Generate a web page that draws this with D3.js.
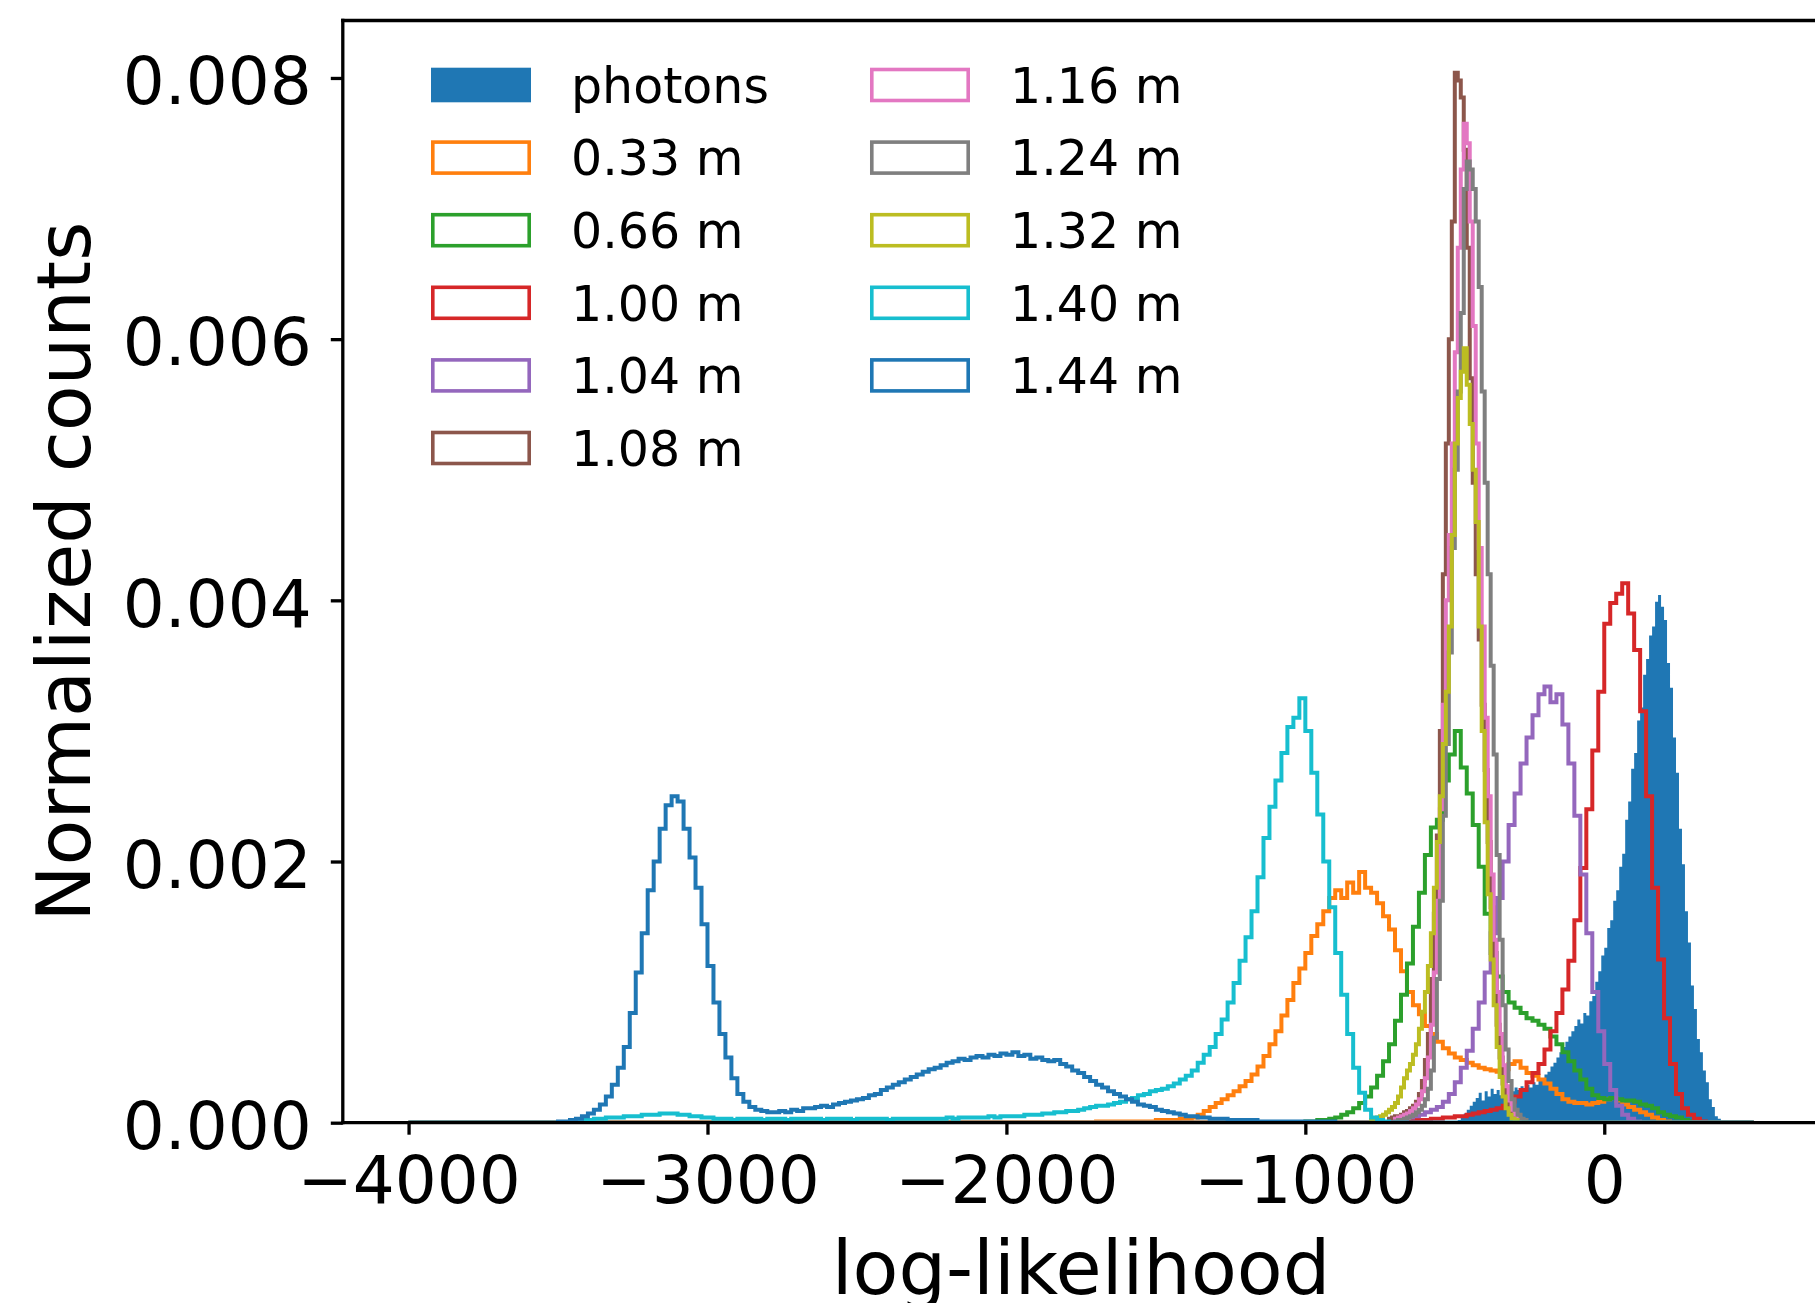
<!DOCTYPE html>
<html><head><meta charset="utf-8">
<script src="https://cdn.jsdelivr.net/npm/d3@7"></script>
<style>
body{margin:0;background:#fff}
svg{display:block;background:#fff}
text{font-family:"DejaVu Sans",sans-serif;fill:#000}
</style>
</head><body>
<svg id="chart" width="1815" height="1303"></svg>
<script>
(function(){
// ---------------- DATA (counts in units of 1e-5) ----------------
const labels = ["photons","0.33 m","0.66 m","1.00 m","1.04 m","1.08 m","1.16 m","1.24 m","1.32 m","1.40 m","1.44 m"];
const colors = ["#1f77b4","#ff7f0e","#2ca02c","#d62728","#9467bd","#8c564b","#e377c2","#7f7f7f","#bcbd22","#17becf","#1f77b4"];
// first bin left edge and bin width (log-likelihood units) of each series
const binStart = [-500,-1700,-1000,-700,-720,-720,-700,-700,-780,-3460,-3500];
const binWidth = [10,20,20,20,20,10,10,10,10,20,20];
const histRange = [-4000, 500];
const countUnit = 1e-5;

const photons = [1,2,4,7,10,13,16,19,23,17, 24,20,26,22,25,21,27,23,26,24, 27,25,28,26,29,27,31,29,34,32,
  37,39,43,46,50,54,58,62,66,70, 74,79,76,84,82,93,97,108,116,128, 134,149,155,170,178,196,206,232,246,271,
  283,308,318,343,355,373,380,399,404,395, 385,352,333,295,268,225,198,162,138,105, 87,64,54,40,31,18,12,5,3,1];
const m033 = [1,1,1,1,1,1,1,1,1,1, 2,2,2,2,3,3,4,6,9,12, 15,18,21,24,28,32,37,43,51,60,
  70,82,94,107,118,130,143,152,162,172, 178,172,184,176,192,180,176,168,158,148, 132,116,100,90,83,74,68,62,57,53,
  50,48,46,44,42,41,40,39,41,45, 47,42,38,36,33,30,26,22,18,16, 15,15,14,15,16,18,19,17,14,12, 10,8,6,4,2,1];
const m066 = [1,1,2,2,3,4,6,8,11,15, 20,27,36,47,60,78,98,122,150,176, 205,226,232,262,282,300,272,252,228,196,
  160,130,112,100,92,88,84,80,78,75, 72,66,60,54,47,40,33,26,21,19, 18,19,18,17,17,16,14,13,11,8, 6,5,4,2,1];
const m100 = [1,1,1,2,2,2,3,3,4,4, 5,5,6,7,8,9,10,11,13,16, 20,25,31,38,45,56,70,84,102,124,
  155,195,240,285,330,382,398,405,413,390, 362,315,250,180,125,80,45,22,11,6, 3,1];
const m104 = [1,2,3,4,5,6,8,10,12,16, 22,31,42,55,72,92,115,145,172,200, 228,252,275,295,312,328,334,322,328,305,
  275,235,190,145,100,70,45,25,13,6, 3,1];
const m108 = [3,4,5,5,6,8,9,11,13,16, 22,32,48,68,110,160,220,300,420,520, 600,690,804,798,785,745,670,570,490,420,
  370,320,270,215,165,115,75,50,30,18, 10,6,4,2];
const m116 = [3,4,5,6,7,9,11,14,18,24, 34,50,75,115,170,240,320,400,450,520, 590,670,730,765,750,690,610,520,440,380,
  310,250,190,140,100,68,44,28,17,10, 6,3,2];
const m124 = [1,2,2,3,4,5,6,8,10,13, 18,26,40,65,110,170,235,290,360,440, 500,560,620,715,736,730,715,690,640,560,
  490,420,350,282,205,140,90,56,32,18, 10,6,3,2];
const m132 = [2,3,4,5,6,8,10,12,15,20, 27,34,40,45,52,60,72,85,100,120, 145,180,215,250,290,330,380,450,520,555,
  575,593,565,535,500,460,380,300,230,175, 125,90,58,35,20,11,6,3,2];
const m140 = [1,1,2,2,3,3,4,4,4,5, 5,5,6,6,6,7,7,7,6,6, 5,5,4,4,3,3,3,2,3,3,
  3,3,2,3,3,3,2,3,3,3, 3,3,2,3,3,3,3,2,3,3, 3,3,3,2,3,3,3,3,3,3, 3,3,3,4,3,4,4,4,4,4,
  5,4,5,5,5,5,6,6,6,7, 7,8,8,9,9,10,11,12,13,13, 14,15,16,18,19,21,22,24,25,26, 28,30,33,36,40,46,52,58,68,79,
  92,107,124,142,162,188,218,242,262,283, 303,310,325,300,268,236,200,165,130,98, 68,42,23,10,4,2,1];
const m144 = [1,1,2,3,5,7,10,14,20,29, 42,58,84,115,145,178,200,225,243,250, 246,225,203,180,152,120,92,68,50,34,
  22,16,12,10,9,8,8,9,8,10, 9,11,11,12,13,12,14,15,16,17, 18,19,21,22,25,27,29,31,33,35,
  37,39,41,42,44,46,47,49,48,50, 51,50,52,51,53,52,54,51,52,49, 50,48,47,48,45,43,40,38,35,32,
  29,27,24,22,20,18,16,14,13,12, 10,9,8,7,6,5,5,4,4,3, 3,3,2,2,2,2,2,1,1,1, 1,1,1,1,1,1,1,1,1,1];
const seriesValues = [photons,m033,m066,m100,m104,m108,m116,m124,m132,m140,m144];

const xTicks = [-4000,-3000,-2000,-1000,0];
const yTicks = [0,0.002,0.004,0.006,0.008];
const xLabel = "log-likelihood";
const yLabel = "Normalized counts";

// ---------------- DRAWING ----------------
const svg = d3.select("#chart");
const W = 1815, H = 1303;
const padL = 342.8, padT = 20.5, baseY = 1122.7;
const x = d3.scaleLinear().domain([-4220, 705]).range([padL, W]);
const y = d3.scaleLinear().domain([0, 0.00844]).range([baseY, padT]);

svg.append("rect").attr("width", W).attr("height", H).attr("fill", "#fff");

svg.append("defs").append("clipPath").attr("id", "plotclip")
  .append("rect").attr("x", padL).attr("y", padT).attr("width", W - padL).attr("height", baseY - padT);

const plot = svg.append("g").attr("clip-path", "url(#plotclip)");

function binPoints(k) {
  const vals = seriesValues[k], st = binStart[k], w = binWidth[k];
  const pts = [];
  vals.forEach((v, i) => { pts.push([st + i * w, v * countUnit]); pts.push([st + (i + 1) * w, v * countUnit]); });
  return pts;
}

// photons: filled histogram
const area = d3.area().x(d => x(d[0])).y0(y(0)).y1(d => y(d[1]));
plot.append("path").attr("d", area(binPoints(0))).attr("fill", colors[0]).attr("stroke", "none");

// step histograms
const line = d3.line().x(d => x(d[0])).y(d => y(d[1]));
for (let k = 1; k < seriesValues.length; k++) {
  const pts = binPoints(k);
  const st = binStart[k], end = st + seriesValues[k].length * binWidth[k];
  const full = [[histRange[0], 0], [st, 0], ...pts, [end, 0], [histRange[1], 0]];
  plot.append("path").attr("d", line(full)).attr("fill", "none")
    .attr("stroke", colors[k]).attr("stroke-width", 4).attr("stroke-linejoin", "miter");
}

// axes
const fs = 66;
const yAxis = svg.append("g").attr("transform", `translate(${padL},0)`)
  .call(d3.axisLeft(y).tickValues(yTicks).tickFormat(d3.format(".3f")).tickSize(12).tickPadding(19));
const xAxis = svg.append("g").attr("transform", `translate(0,${baseY})`)
  .call(d3.axisBottom(x).tickValues(xTicks).tickFormat(d3.format("d")).tickSize(12).tickPadding(21));
[yAxis, xAxis].forEach(g => {
  g.select(".domain").remove();
  g.selectAll(".tick line").attr("stroke", "#000").attr("stroke-width", 3.3);
  g.selectAll(".tick text").attr("font-size", fs).attr("font-family", "DejaVu Sans").attr("fill", "#000");
});
yAxis.selectAll(".tick text").attr("dy", "0.39em");

// spines
const spine = svg.append("g").attr("stroke", "#000").attr("stroke-width", 3.3).attr("stroke-linecap", "square");
spine.append("line").attr("x1", padL).attr("x2", padL).attr("y1", padT).attr("y2", baseY);
spine.append("line").attr("x1", padL).attr("x2", W + 5).attr("y1", padT).attr("y2", padT);
spine.append("line").attr("x1", padL).attr("x2", W + 5).attr("y1", baseY).attr("y2", baseY);

// axis labels
svg.append("text").attr("x", 1081).attr("y", 1294).attr("text-anchor", "middle")
  .attr("font-size", 75).text(xLabel);
svg.append("text").attr("transform", "translate(89.5,571.6) rotate(-90)").attr("text-anchor", "middle")
  .attr("font-size", 75).text(yLabel);

// legend
const legend = svg.append("g");
const colX = [431, 870], rowY0 = 85, rowStep = 72.6, perCol = 6;
labels.forEach((lab, i) => {
  const c = Math.floor(i / perCol), r = i % perCol;
  const x0 = colX[c], cy = rowY0 + r * rowStep;
  if (i === 0) {
    legend.append("rect").attr("x", x0).attr("y", cy - 17.3).attr("width", 100).attr("height", 34.6)
      .attr("fill", colors[i]);
  } else {
    legend.append("rect").attr("x", x0 + 1.8).attr("y", cy - 15.5).attr("width", 96.4).attr("height", 31)
      .attr("fill", "none").attr("stroke", colors[i]).attr("stroke-width", 3.6);
  }
  legend.append("text").attr("x", x0 + 140).attr("y", cy + 17.8).attr("font-size", 49).text(lab);
});
})();
</script>
</body></html>
